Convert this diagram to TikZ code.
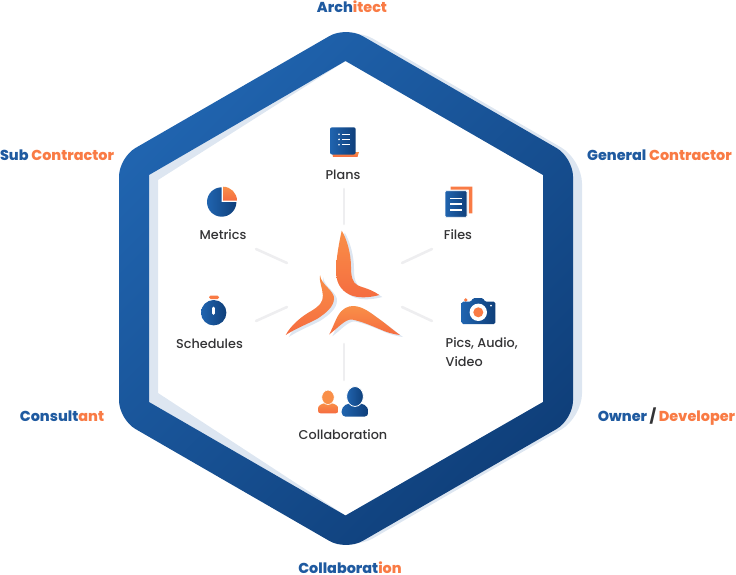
\documentclass[tikz,border=0pt]{standalone}
\usepackage{fontspec}
\setmainfont{Poppins}
\newfontfamily\itemfont{Poppins Medium}
\newfontfamily\rolefont{Poppins ExtraBold}
\definecolor{hexlight}{HTML}{2064AF}
\definecolor{hexdark}{HTML}{0F3F7A}
\definecolor{haze}{HTML}{DDE6F1}
\definecolor{spokegray}{HTML}{EEEEF0}
\definecolor{orangeA}{HTML}{F98F48}
\definecolor{orangeB}{HTML}{F56C40}
\definecolor{wordblue}{HTML}{1F5AA0}
\definecolor{wordorange}{HTML}{F97B45}
\definecolor{inkgray}{HTML}{333335}
\tikzset{
	rolelabel/.style={anchor=base,inner sep=0pt,font=\rolefont\fontsize{14.4}{16}\selectfont},
	itemlabel/.style={anchor=base,inner sep=0pt,text=inkgray,font=\itemfont\fontsize{12.8}{19}\selectfont},
	spoke/.style={draw=spokegray,line width=2.6pt},
	blade/.style={top color=orangeA,bottom color=orangeB,preaction={fill=haze,transform canvas={xshift=3pt,yshift=-2pt}}},
	iconblue/.style={left color=hexlight,right color=hexdark},
	iconorange/.style={top color=orangeA,bottom color=orangeB},
}
\newcommand{\bl}[1]{\textcolor{wordblue}{#1}}
\newcommand{\og}[1]{\textcolor{wordorange}{#1}}
\begin{document}
\begin{tikzpicture}[x=1pt,y=-1pt,line cap=round,line join=round]
		\useasboundingbox (0,0) rectangle (736,575);
		\fill[haze,even odd rule] [rounded corners=24pt] (352,26.5)--(582,159.5)--(582,417.5)--(352,550.5)--(125,419.5)--(125,157.5)--cycle
			[sharp corners] (345.5,61)--(543,175)--(543,402)--(345.5,515.5)--(158,393)--(158,180)--cycle;
		\path[even odd rule,shade,top color=hexlight,bottom color=hexdark,shading angle=45]
			[rounded corners=19pt] (346,26.5)--(573,157.5)--(573,419.5)--(346,550.5)--(119,419.5)--(119,157.5)--cycle
			[sharp corners] (345.5,61)--(543,175)--(543,402)--(345.5,515.5)--(149,402)--(149,175)--cycle;
		\foreach \sa/\sb in {{344,189}/{344,224},{256,249}/{287,263},{432,249}/{402,263},{256,321}/{287,307},{432,321}/{402,307},{344,344}/{344,380}}
			\draw[spoke] (\sa)--(\sb);
		\path[blade] (341.7,230.7) .. controls (337.5,250) and (336,262) .. (336.2,273.3) .. controls (336.5,286) and (344,293) .. (353,296) .. controls (362,298.5) and (372,297) .. (379.3,295) .. controls (370,288.5) and (362,287.5) .. (358,285.5) .. controls (352,283) and (351,275) .. (351,266.7) .. controls (351,255) and (347.5,240) .. (341.7,230.7)--cycle;
		\path[blade] (320,275) .. controls (321,285) and (335,291) .. (334,299) .. controls (333.5,307) and (326,313) .. (317,319) .. controls (305,325) and (295,329) .. (285.7,335) .. controls (291,325) and (302,316) .. (311.7,310.7) .. controls (319,306) and (323,303) .. (322.8,295) .. controls (322.5,288) and (319,282) .. (320,275)--cycle;
		\path[blade] (329.3,334.3) .. controls (333,327) and (335.5,320) .. (338,315.7) .. controls (342,308.5) and (348,306) .. (353,306) .. controls (363,306) and (372,314) .. (377,317.5) .. controls (385,323) and (393,330) .. (400,335) .. controls (392,334) and (386,332) .. (380,329.3) .. controls (372,326) and (362,321.5) .. (352,319.5) .. controls (345,319) and (338,328) .. (329.3,334.3)--cycle;
		% plans
		\path[iconorange] (332,152)--(359,152)--(357.5,156.8)--(333,156.8)--cycle;
		\path[iconblue,rounded corners=2pt] (330,127.3) rectangle (355.7,154.5);
		\foreach \ly in {134.3,139.4,144.7} {
			\fill[white] (339,\ly) circle (.9);
			\draw[white,line width=1.2pt,line cap=butt] (341.7,\ly)--(350,\ly);
		}
		\node[itemlabel] (plans) at (343,179) {Plans};
		% metrics
		\path[iconblue] (221.7,187.3) arc (270:0:14.7)--(221.7,202)--cycle;
		\path[iconorange] (223,186.7) arc (270:360:14)--(223,200.5)--cycle;
		\node[itemlabel] (metrics) at (223,239) {Metrics};
		% files
		\fill[wordorange] (450.7,186.7)--(472.3,186.7)--(472.3,213.3)--(468.8,213.3)--(468.8,189.5)--(450.7,189.5)--cycle;
		\path[iconblue,draw=white,line width=.8pt,rounded corners=1pt] (445,190.7) rectangle (467,217.3);
		\foreach \ly in {198.3,204,210}
			\draw[white,line width=1.6pt,line cap=butt] (450,\ly)--(461.7,\ly);
		\node[itemlabel] (files) at (458,239) {Files};
		% schedules
		\fill[wordorange,rounded corners=1.5pt] (209,295.7) rectangle (219,299);
		\path[iconblue] (213.7,312.7) circle (12.7);
		\draw[white,line width=2.6pt] (213.7,308)--(213.7,313.5);
		\node[itemlabel] (schedules) at (209.5,348) {Schedules};
		% pics
		\fill[wordorange] (465.7,300) circle (1.8);
		\path[iconblue,rounded corners=1.5pt] (461.7,301.7)--(471,301.7)--(473,298)--(483,298)--(485,301.7)--(495.3,301.7)--(495.3,324)--(461.7,324)--cycle;
		\fill[white] (478.3,312.3) circle (8.7);
		\fill[wordorange] (478.3,312.3) circle (5);
		\fill[white] (491,305.7) circle (1);
		\node[itemlabel,anchor=north west,align=left] (pics) at (445.5,337) {Pics, Audio,\\Video};
		% collaboration
		\path[iconorange,rounded corners=2.5pt] (318,413.3)--(318,406)--(324,403)--(332,403)--(338.3,406)--(338.3,413.3)--cycle;
		\fill[orangeA,draw=white,line width=.6pt] (328,397.3) ellipse (6.2 and 7.2);
		\path[iconblue,rounded corners=4pt] (341.7,416.7)--(341.7,407)--(349,403)--(361,403)--(368.3,407)--(368.3,416.7)--cycle;
		\path[iconblue,draw=white,line width=.8pt] (355,396.5) ellipse (8.4 and 10);
		\node[itemlabel] (collab) at (343,439) {Collaboration};
		% roles
		\node[rolelabel] (architect) at (352,12.5) {\bl{Arch}\og{itect}};
		\node[rolelabel] (subcontractor) at (57,160.7) {\bl{Sub} \og{Contractor}};
		\node[rolelabel] (general) at (659.5,160.7) {\bl{General} \og{Contractor}};
		\node[rolelabel] (consultant) at (62,421.3) {\bl{Consult}\og{ant}};
		\node[rolelabel] (owner) at (666.5,421.3) {\bl{Owner} \textcolor{inkgray}{/} \og{Developer}};
		\node[rolelabel] (collaboration) at (350,573.5) {\bl{Collaborat}\og{ion}};
		\end{tikzpicture}
\end{document}
